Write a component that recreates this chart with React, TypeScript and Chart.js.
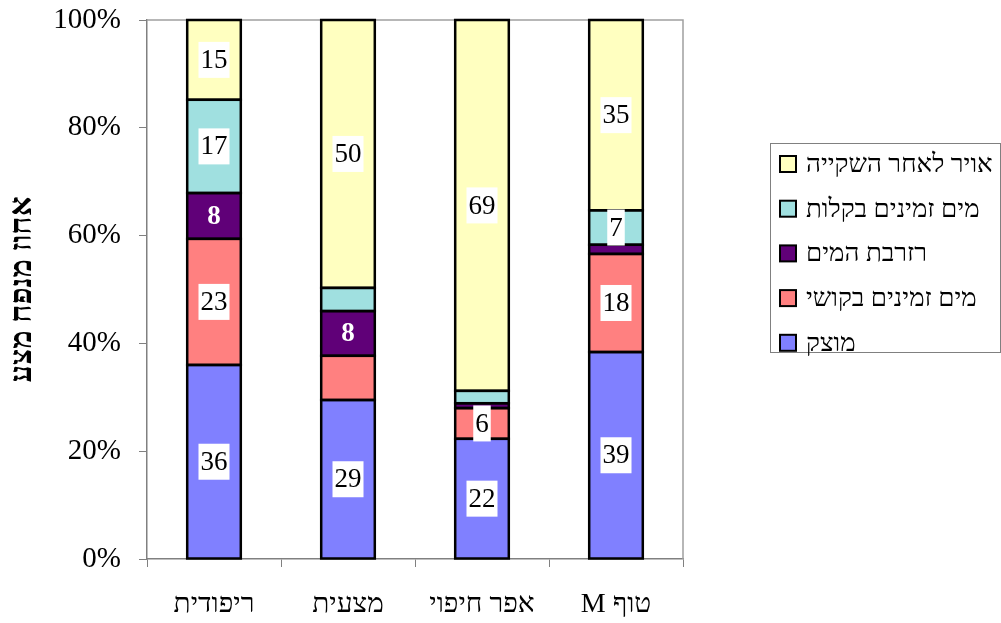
import React, { useEffect, useRef } from 'react';
import { Chart, registerables } from 'chart.js';
Chart.register(...registerables);

const categories = ['ריפודית', 'מצעית', 'אפר חיפוי', 'טוף M'];
const yTitle = 'אחוז מנפח מצע';

const seriesNames = ['מוצק', 'מים זמינים בקושי', 'רזרבת המים', 'מים זמינים בקלות', 'אויר לאחר השקייה'];
const solid = [36.0, 29.5, 22.3, 38.4];
const hardWater = [23.4, 8.2, 5.7, 18.2];
const reserve = [8.5, 8.3, 0.9, 1.7];
const easyWater = [17.3, 4.3, 2.3, 6.4];
const air = [14.8, 49.7, 68.8, 35.3];

const solidLabels = [36, 29, 22, 39];
const hardLabels = [23, null, 6, 18];
const reserveLabels = [8, 8, null, null];
const easyLabels = [17, null, null, 7];
const airLabels = [15, 50, 69, 35];

const colors = ['#8080FF', '#FF8080', '#600078', '#A0E0E0', '#FFFFC0'];

const SERIF = '"Liberation Serif", "Times New Roman", serif';

export default function App() {
  const ref = useRef<HTMLCanvasElement>(null);
  useEffect(() => {
    document.body.style.margin = '0';
    const values = [solid, hardWater, reserve, easyWater, air];
    const labels = [solidLabels, hardLabels, reserveLabels, easyLabels, airLabels];

    const frame = {
      id: 'frame',
      beforeDatasetsDraw(chart: any) {
        const { ctx, chartArea: a } = chart;
        ctx.save();
        ctx.strokeStyle = '#A0A0A0';
        ctx.lineWidth = 1.5;
        ctx.beginPath();
        ctx.moveTo(a.left, a.top);
        ctx.lineTo(a.right, a.top);
        ctx.lineTo(a.right, a.bottom);
        ctx.stroke();
        ctx.restore();
      },
    };

    const segLabels = {
      id: 'segLabels',
      afterDatasetsDraw(chart: any) {
        const ctx = chart.ctx;
        ctx.save();
        ctx.strokeStyle = '#000000';
        ctx.lineWidth = 2.5;
        chart.data.datasets.forEach((ds: any, di: number) => {
          const meta = chart.getDatasetMeta(di);
          meta.data.forEach((el: any) => {
            const w = el.width;
            const top = Math.min(el.y, el.base);
            const h = Math.abs(el.base - el.y);
            ctx.strokeRect(el.x - w / 2, top, w, h);
          });
        });
        ctx.textAlign = 'center';
        ctx.textBaseline = 'middle';
        chart.data.datasets.forEach((ds: any, di: number) => {
          const meta = chart.getDatasetMeta(di);
          meta.data.forEach((el: any, i: number) => {
            const lab = labels[di][i];
            if (lab === null || lab === undefined) return;
            const cx = el.x;
            const cy = (el.y + el.base) / 2;
            const txt = String(lab);
            if (di === 2) {
              ctx.font = `bold 27px ${SERIF}`;
              ctx.fillStyle = '#FFFFFF';
              ctx.fillText(txt, cx, cy + 1);
            } else {
              ctx.font = `27px ${SERIF}`;
              const w = ctx.measureText(txt).width + 4;
              const h = 36;
              ctx.fillStyle = '#FFFFFF';
              ctx.fillRect(cx - w / 2, cy - h / 2, w, h);
              ctx.fillStyle = '#000000';
              ctx.fillText(txt, cx, cy + 1);
            }
          });
        });
        ctx.restore();
      },
    };

    const legendBox = {
      id: 'legendBox',
      afterDraw(chart: any) {
        const ctx = chart.ctx;
        ctx.save();
        ctx.strokeStyle = '#808080';
        ctx.lineWidth = 1;
        ctx.strokeRect(770.5, 143.5, 230, 209);
        const rows = [4, 3, 2, 1, 0];
        ctx.font = `26px ${SERIF}`;
        ctx.textBaseline = 'middle';
        ctx.textAlign = 'left';
        rows.forEach((si, r) => {
          const cy = 164 + r * 44.7;
          ctx.fillStyle = colors[si];
          ctx.fillRect(780, cy - 8, 16, 16);
          ctx.strokeStyle = '#000';
          ctx.lineWidth = 2;
          ctx.strokeRect(780, cy - 8, 16, 16);
          ctx.fillStyle = '#000';
          ctx.fillText(seriesNames[si], 806, cy + 1);
        });
        ctx.restore();
      },
    };

    const chart = new Chart(ref.current!, {
      type: 'bar',
      data: {
        labels: categories,
        datasets: values.map((v, i) => ({
          label: seriesNames[i],
          data: v,
          backgroundColor: colors[i],
          borderWidth: 0,
          barPercentage: 0.4,
          categoryPercentage: 1,
        })),
      },
      options: {
        responsive: false,
        animation: false,
        layout: { padding: { top: 20, right: 318, left: 0, bottom: 0 } },
        plugins: { legend: { display: false }, tooltip: { enabled: false } },
        scales: {
          x: {
            stacked: true,
            grid: { display: true, drawOnChartArea: false, offset: true, tickLength: 8, color: '#808080' },
            border: { color: '#808080', width: 1.5 },
            ticks: { color: '#000', font: { family: SERIF, size: 28 }, padding: 21 },
            afterFit(scale: any) { scale.height = 64; scale.paddingLeft = 0; scale.paddingRight = 0; },
          },
          y: {
            stacked: true,
            min: 0,
            max: 100,
            ticks: {
              stepSize: 20,
              color: '#000',
              font: { family: SERIF, size: 29 },
              padding: 18,
              callback: (v: any) => v + '%',
            },
            grid: { display: true, drawOnChartArea: false, tickLength: 8, color: '#808080' },
            border: { color: '#808080', width: 1.5 },
            title: {
              display: true,
              text: yTitle,
              color: '#000',
              font: { family: SERIF, size: 31, weight: 'bold' },
              padding: { top: 4, bottom: 0 },
            },
            afterFit(scale: any) { scale.width = 147; scale.paddingTop = 0; scale.paddingBottom = 0; },
          },
        },
      },
      plugins: [frame, segLabels, legendBox],
    } as any);
    return () => chart.destroy();
  }, []);
  return (
    <div style={{ width: 1001, height: 623 }}>
      <canvas ref={ref} width={1001} height={623} dir="rtl" style={{ display: 'block' }} />
    </div>
  );
}
